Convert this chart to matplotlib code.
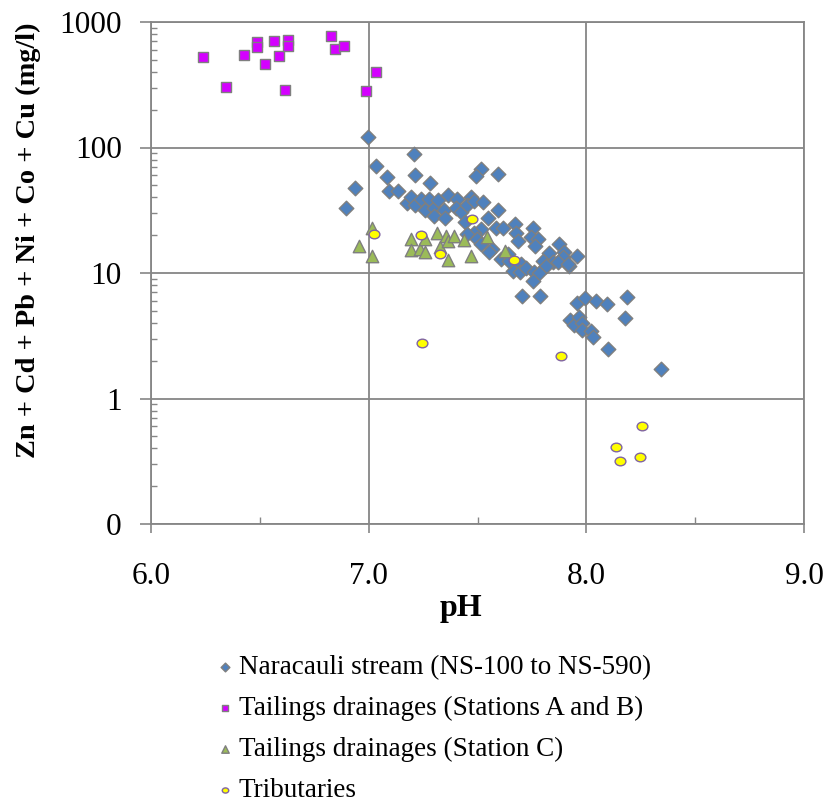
import numpy as np
import matplotlib
matplotlib.use("Agg")
import matplotlib.pyplot as plt
from matplotlib.path import Path
from matplotlib.ticker import FixedLocator, FuncFormatter, LogLocator, NullFormatter

plt.rcParams['font.family'] = ['Liberation Serif', 'DejaVu Serif']

# Naracauli stream (NS-100 to NS-590)
ns_ph = [6.898, 6.936, 6.997, 7.035, 7.086, 7.093, 7.136, 7.206, 7.214, 7.284, 7.514, 7.494, 7.596,
         7.178, 7.193, 7.211, 7.239, 7.257, 7.275, 7.300, 7.318, 7.346, 7.364, 7.300, 7.349, 7.407,
         7.402, 7.425, 7.471, 7.453, 7.486, 7.526, 7.596, 7.547, 7.443,
         7.517, 7.483, 7.453, 7.499, 7.514, 7.586, 7.616, 7.673, 7.678, 7.685, 7.566, 7.555, 7.606,
         7.640, 7.754, 7.746, 7.777, 7.766, 7.876, 7.827, 7.899, 7.956, 7.800, 7.849, 7.815, 7.892,
         7.922, 7.700, 7.662, 7.693, 7.723, 7.761, 7.784, 7.754, 7.647, 7.869, 7.914,
         7.705, 7.786, 7.956, 7.995, 8.044, 8.094, 8.187, 7.925, 7.945, 7.965, 7.979, 7.979, 8.020,
         8.029, 8.098, 8.177, 8.345]
ns_metals = [33, 48, 122, 71, 58, 45, 45, 89, 60, 52, 68, 59, 62,
             36, 40, 35, 39, 32, 39, 33, 38, 32, 42, 28.5, 27.5, 39,
             33, 30.5, 40.5, 35, 37.5, 37, 32, 27.5, 25.3,
             22.6, 21, 20.4, 18.6, 17, 23, 23, 24.4, 21, 18, 15.5, 14.6, 12.9,
             14.1, 23, 19.2, 18.6, 16.3, 17, 14.4, 14.7, 13.7, 12.5, 12.3, 11.4, 13.3,
             11.4, 11.8, 10.4, 10.2, 10.9, 10.2, 10.0, 8.7, 12.5, 12.2, 11.8,
             6.5, 6.5, 5.75, 6.3, 6.0, 5.7, 6.4, 4.2, 3.85, 4.45, 4.0, 3.5, 3.45,
             3.1, 2.5, 4.4, 1.73]

# Tailings drainages (Stations A and B)
ab_ph = [6.24, 6.345, 6.425, 6.488, 6.488, 6.524, 6.564, 6.586, 6.628, 6.628, 6.616, 6.827,
         6.844, 6.887, 6.986, 7.035]
ab_metals = [525, 305, 544, 698, 637, 467, 711, 537, 716, 641, 285, 774,
             607, 645, 283, 396]

# Tailings drainages (Station C)
c_ph = [7.017, 6.956, 7.017, 7.196, 7.193, 7.234, 7.257, 7.257, 7.315, 7.326, 7.356, 7.365,
        7.364, 7.394, 7.437, 7.468, 7.544, 7.625]
c_metals = [23, 16.5, 13.7, 18.8, 15.3, 15.5, 14.6, 18.6, 21, 16, 19.8, 18,
            12.7, 19.8, 18.4, 13.6, 19.5, 15.1]

# Tributaries
trib_ph = [7.025, 7.242, 7.326, 7.476, 7.667, 7.243, 7.885, 8.255, 8.135, 8.156, 8.245]
trib_metals = [20.3, 20.1, 14.2, 26.8, 12.7, 2.78, 2.17, 0.6, 0.41, 0.32, 0.34]

labels = ["Naracauli stream (NS-100 to NS-590)",
          "Tailings drainages (Stations A and B)",
          "Tailings drainages (Station C)",
          "Tributaries"]

grey = '#868686'

# slightly flattened circle, like the Excel markers
circ = Path.unit_circle()
ellipse = Path(circ.vertices * np.array([1.0, 0.8]), circ.codes)

fig = plt.figure(figsize=(8.27, 8.06), dpi=100)
ax = fig.add_axes([151 / 827, 1 - 524 / 806, (804 - 151) / 827, (524 - 22) / 806])

ax.scatter(ns_ph, ns_metals, marker='D', s=55, c='#4F81BD', edgecolors='#7F7F7F',
           linewidths=1.0, zorder=3, label=labels[0])
ax.scatter(ab_ph, ab_metals, marker='s', s=60, c='#D400FF', edgecolors='#7F7F7F',
           linewidths=1.0, zorder=3, label=labels[1])
ax.scatter(c_ph, c_metals, marker='^', s=80, c='#9BBB59', edgecolors='#7F7F7F',
           linewidths=1.0, zorder=4, label=labels[2])
ax.scatter(trib_ph, trib_metals, marker=ellipse, s=60, c='#FFFF00', edgecolors='#8064A2',
           linewidths=1.0, zorder=5, label=labels[3])

ax.set_yscale('log')
ax.set_ylim(0.1, 1000)
ax.set_xlim(6.0, 9.0)

ax.xaxis.set_major_locator(FixedLocator([6.0, 7.0, 8.0, 9.0]))
ax.xaxis.set_minor_locator(FixedLocator([6.5, 7.5, 8.5]))
ax.xaxis.set_major_formatter(FuncFormatter(lambda v, p: f"{v:.1f}"))
ax.yaxis.set_major_locator(FixedLocator([0.1, 1, 10, 100, 1000]))
ax.yaxis.set_major_formatter(FuncFormatter(lambda v, p: "0" if v < 1 else f"{v:.0f}"))
ax.yaxis.set_minor_locator(LogLocator(base=10, subs=np.arange(2, 10)))
ax.yaxis.set_minor_formatter(NullFormatter())

ax.grid(True, which='major', color=grey, linewidth=1.3, zorder=1)
ax.set_axisbelow(True)
for sp in ax.spines.values():
    sp.set_color(grey)
    sp.set_linewidth(1.3)

ax.tick_params(axis='both', which='major', direction='out', width=1.2,
               color=grey, labelsize=22.5)
ax.tick_params(axis='y', which='major', length=8, pad=13)
ax.tick_params(axis='x', which='major', length=6.5, pad=21)
ax.tick_params(axis='y', which='minor', direction='in', length=4, width=1.0, color=grey)
ax.tick_params(axis='x', which='minor', direction='in', length=5, width=1.0, color=grey)

ax.set_xlabel("pH", fontsize=23, fontweight='bold', labelpad=2)
ax.set_ylabel("Zn + Cd + Pb + Ni + Co + Cu (mg/l)", fontsize=20.4, fontweight='bold', labelpad=13)
ax.xaxis.label.set_x(0.475)
ax.yaxis.label.set_y(0.566)

fig.legend(loc='upper left', bbox_to_anchor=(203 / 827, 1 - 642 / 806), frameon=False,
           fontsize=19.5, markerscale=0.6, handlelength=0.6, handletextpad=0.22,
           labelspacing=0.58, borderpad=0)

fig.savefig("out.png", dpi=100)
